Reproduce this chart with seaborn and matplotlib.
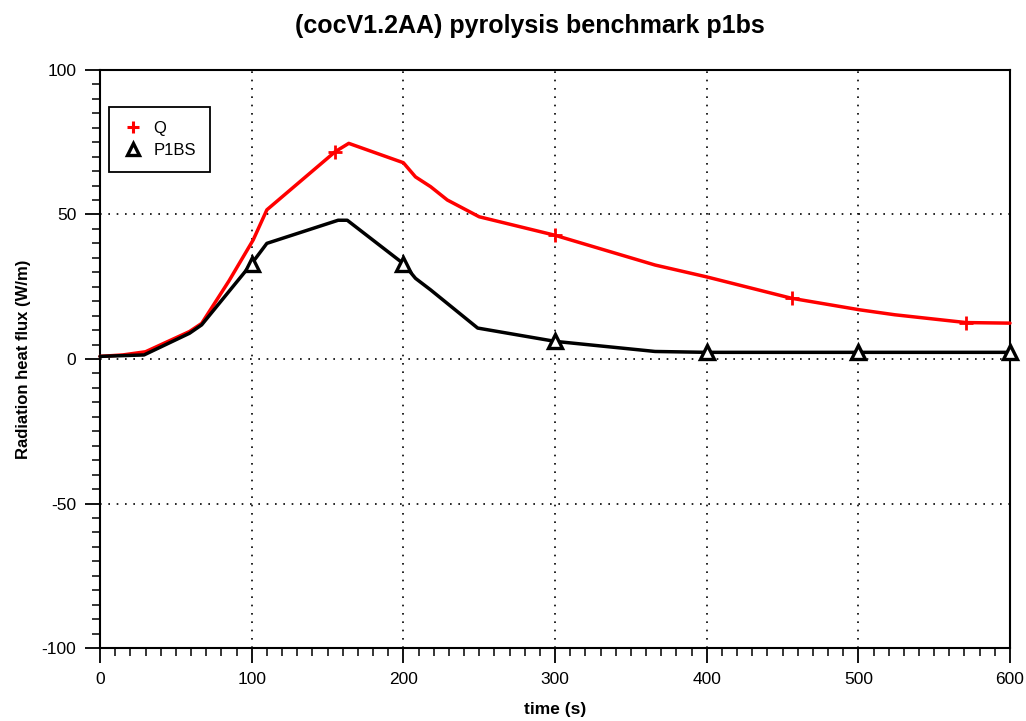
import matplotlib
matplotlib.use("Agg")
import matplotlib.pyplot as plt
from matplotlib.lines import Line2D
from matplotlib.ticker import MultipleLocator
import seaborn as sns
import pandas as pd

# Q series (radiation heat flux)
q_time = [0, 15, 30, 59, 67, 85, 101, 110, 155, 164, 200, 208, 218, 229, 250,
          300, 366, 400, 456, 501, 524, 571, 600]
q_flux = [0.9, 1.4, 2.5, 9.5, 12.3, 27.0, 41.2, 51.6, 71.7, 74.6, 67.9, 63.0,
          59.6, 55.0, 49.2, 42.8, 32.5, 28.4, 21.0, 17.0, 15.3, 12.6, 12.4]
q_marks = [8, 15, 18, 21]

# P1BS benchmark series
p_time = [0, 29, 59, 67, 100, 110, 157, 163, 200, 208, 218, 249, 300, 366,
          400, 500, 600]
p_flux = [0.9, 1.4, 8.9, 11.8, 33.0, 40.0, 48.0, 48.0, 33.0, 27.9, 23.9, 10.7,
          6.1, 2.6, 2.3, 2.3, 2.3]
p_marks = [4, 8, 12, 14, 15, 16]

title = "(cocV1.2AA) pyrolysis benchmark p1bs"
xlabel = "time (s)"
ylabel = "Radiation heat flux (W/m)"

sns.set_style("white")
plt.rcParams["font.family"] = ["Liberation Sans", "DejaVu Sans"]
plt.rcParams["axes.unicode_minus"] = False
for key in ("text.color", "axes.labelcolor", "xtick.color", "ytick.color"):
    plt.rcParams[key] = "black"

fig = plt.figure(figsize=(10.26, 7.21), dpi=100)
ax = fig.add_axes([0.0975, 0.1012, 0.8869, 0.8018])

q_df = pd.DataFrame({"t": q_time, "v": q_flux})
p_df = pd.DataFrame({"t": p_time, "v": p_flux})

sns.lineplot(data=q_df, x="t", y="v", ax=ax, color="#ff0000", linewidth=2.5,
             marker="+", markersize=10, markeredgewidth=2,
             markeredgecolor="#ff0000", markevery=q_marks,
             estimator=None, zorder=3, clip_on=False)
sns.lineplot(data=p_df, x="t", y="v", ax=ax, color="black", linewidth=2.5,
             marker="^", markersize=10, markeredgewidth=2.4,
             markerfacecolor="white", markeredgecolor="black",
             markevery=p_marks, estimator=None, zorder=3, clip_on=False)

ax.set_xlim(0, 600)
ax.set_ylim(-100, 100)
ax.xaxis.set_major_locator(MultipleLocator(100))
ax.xaxis.set_minor_locator(MultipleLocator(10))
ax.yaxis.set_major_locator(MultipleLocator(50))
ax.yaxis.set_minor_locator(MultipleLocator(5))

ax.tick_params(which="major", direction="out", length=11, width=1.3,
               color="black", labelsize=12.5, pad=6, bottom=True, left=True)
ax.tick_params(which="minor", direction="out", length=6, width=1.1,
               color="black", bottom=True, left=True)

ax.grid(True, which="major", color="black", linestyle=(0, (1, 4)), linewidth=1.2)
for s in ax.spines.values():
    s.set_color("black")
    s.set_linewidth(1.5)

fig.text(0.5166, 0.964, title, ha="center", va="center",
         fontsize=18, fontweight="bold")
ax.set_xlabel(xlabel, fontsize=12.5, fontweight="bold", labelpad=11)
ax.set_ylabel(ylabel, fontsize=12, fontweight="bold", labelpad=8)

handles = [
    Line2D([], [], linestyle="none", marker="+", color="#ff0000",
           markersize=9, markeredgewidth=2.2),
    Line2D([], [], linestyle="none", marker="^", markerfacecolor="white",
           markeredgecolor="black", markersize=9, markeredgewidth=2.4),
]
leg = ax.legend(handles, ["Q", "P1BS"], loc="upper left",
                bbox_to_anchor=(0.0099, 0.936), borderaxespad=0,
                fancybox=False, framealpha=1, edgecolor="black",
                prop={"size": 12},
                handletextpad=0.6, borderpad=0.85, labelspacing=0.4,
                handlelength=1.2)
leg.get_frame().set_linewidth(1.3)

fig.savefig("out.png", dpi=100)
